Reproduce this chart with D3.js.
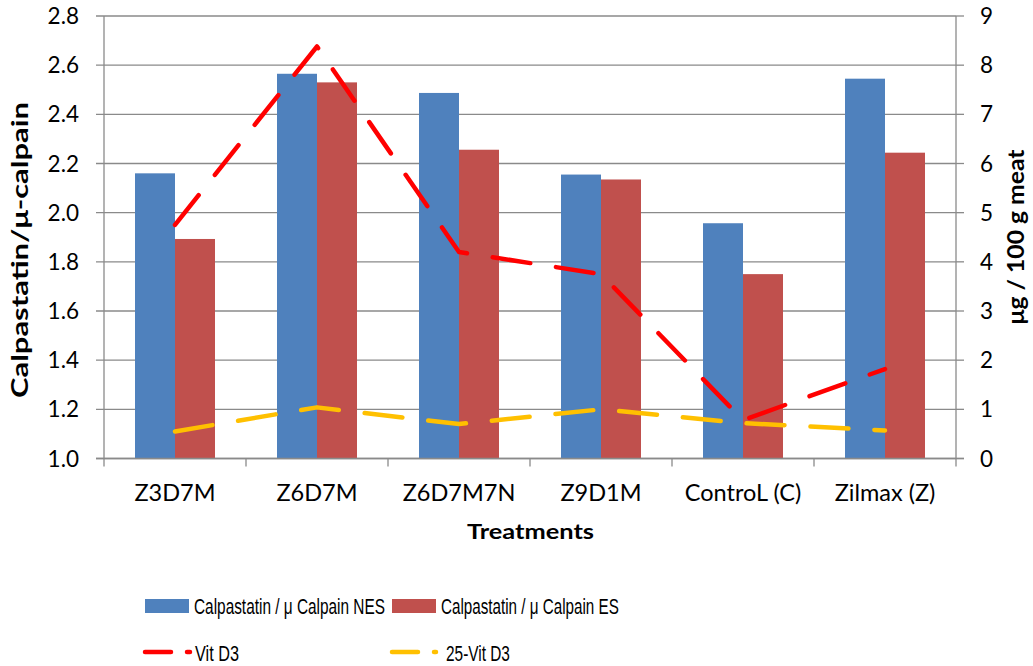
<!DOCTYPE html>
<html><head><meta charset="utf-8">
<script src="https://cdn.jsdelivr.net/npm/d3@7"></script>
<style>body{margin:0;background:#fff}svg{display:block}</style>
</head><body>
<svg id="c" width="1033" height="666"></svg>
<script>
const categories = ["Z3D7M","Z6D7M","Z6D7M7N","Z9D1M","ControL (C)","Zilmax (Z)"];
const nesValues = [2.16,2.565,2.487,2.155,1.957,2.545];
const esValues = [1.893,2.53,2.256,2.135,1.75,2.244];
const vitD3 = [4.75,8.38,4.2,3.75,0.78,1.82];
const vit25D3 = [0.55,1.04,0.7,1.0,0.72,0.57];
const leftTicks = [1.0,1.2,1.4,1.6,1.8,2.0,2.2,2.4,2.6,2.8];
const rightTicks = [0,1,2,3,4,5,6,7,8,9];
const seriesNames = ["Calpastatin / μ Calpain NES","Calpastatin / μ Calpain ES","Vit D3","25-Vit D3"];

const svg = d3.select("#c");
const L=104,R=956,T=16,B=458.5;
const font="Lato, 'Open Sans', sans-serif";
const grid="#8a8a8a";
const x = d3.scaleBand().domain(categories).range([L,R]).padding(0);
const xi = d3.scaleBand().domain(["NES","ES"]).range([0,x.bandwidth()]).paddingInner(0).paddingOuter(0.775);
const yL = d3.scaleLinear().domain([1.0,2.8]).range([B,T]);
const yR = d3.scaleLinear().domain([0,9]).range([B,T]);

svg.append("g").selectAll("line").data(leftTicks).join("line")
  .attr("x1",L-8).attr("x2",R).attr("y1",d=>yL(d)).attr("y2",d=>yL(d))
  .attr("stroke",grid).attr("stroke-width",1.3);
svg.append("g").selectAll("line").data(rightTicks).join("line")
  .attr("x1",R).attr("x2",R+8).attr("y1",d=>yR(d)).attr("y2",d=>yR(d))
  .attr("stroke",grid).attr("stroke-width",1.3);
const bars = svg.append("g");
bars.selectAll("rect.nes").data(categories).join("rect")
  .attr("x",(c)=>x(c)+xi("NES")).attr("width",xi.bandwidth())
  .attr("y",(c,i)=>yL(nesValues[i])).attr("height",(c,i)=>yL(1)-yL(nesValues[i]))
  .attr("fill","#4F81BD");
bars.selectAll("rect.es").data(categories).join("rect")
  .attr("x",(c)=>x(c)+xi("ES")).attr("width",xi.bandwidth())
  .attr("y",(c,i)=>yL(esValues[i])).attr("height",(c,i)=>yL(1)-yL(esValues[i]))
  .attr("fill","#C0504D");
svg.append("line").attr("x1",L).attr("x2",L).attr("y1",T).attr("y2",B+8).attr("stroke",grid).attr("stroke-width",1.3);
svg.append("line").attr("x1",R).attr("x2",R).attr("y1",T).attr("y2",B+8).attr("stroke",grid).attr("stroke-width",1.3);
svg.append("line").attr("x1",L-8).attr("x2",R+8).attr("y1",B).attr("y2",B).attr("stroke",grid).attr("stroke-width",1.3);
svg.append("g").selectAll("line").data(categories.slice(1)).join("line")
  .attr("x1",d=>x(d)).attr("x2",d=>x(d)).attr("y1",B).attr("y2",B+8).attr("stroke",grid).attr("stroke-width",1.3);

const cx = c=>x(c)+x.bandwidth()/2;
const lineR = d3.line().x((d,i)=>cx(categories[i])).y(d=>yR(d));
const dash="38,26";
svg.append("path").attr("d",lineR(vit25D3)).attr("fill","none").attr("stroke","#FFC000")
  .attr("stroke-width",4.5).attr("stroke-dasharray",dash).attr("stroke-linecap","round").attr("stroke-linejoin","round");
svg.append("path").attr("d",lineR(vitD3)).attr("fill","none").attr("stroke","#FF0000")
  .attr("stroke-width",4.5).attr("stroke-dasharray",dash).attr("stroke-linecap","round").attr("stroke-linejoin","round");

svg.append("g").selectAll("text").data(leftTicks).join("text")
  .attr("x",79).attr("y",d=>yL(d)+8).attr("text-anchor","end")
  .attr("font-family",font).attr("font-size",22.5).attr("fill","#000").text(d=>d.toFixed(1));
svg.append("g").selectAll("text").data(rightTicks).join("text")
  .attr("x",980).attr("y",d=>yR(d)+8).attr("text-anchor","start")
  .attr("font-family",font).attr("font-size",22.5).attr("fill","#000").text(d=>d);
svg.append("g").selectAll("text").data(categories).join("text")
  .attr("x",d=>cx(d)).attr("y",501).attr("text-anchor","middle")
  .attr("font-family",font).attr("font-size",23.5).attr("fill","#000").text(d=>d);

svg.append("text").attr("transform","translate(28,250) rotate(-90)").attr("text-anchor","middle")
  .attr("font-family",font).attr("font-weight","bold").attr("font-size",22)
  .attr("textLength",296).attr("lengthAdjust","spacingAndGlyphs").text("Calpastatin/μ-calpain");
svg.append("text").attr("transform","translate(1024,237) rotate(-90)").attr("text-anchor","middle")
  .attr("font-family",font).attr("font-weight","bold").attr("font-size",22)
  .attr("textLength",175).attr("lengthAdjust","spacingAndGlyphs").text("μg / 100 g meat");
svg.append("text").attr("x",530.5).attr("y",539).attr("text-anchor","middle")
  .attr("font-family",font).attr("font-weight","bold").attr("font-size",21)
  .attr("textLength",127).attr("lengthAdjust","spacingAndGlyphs").text("Treatments");

// legend (text horizontally condensed to the reference widths)
const lf="'Liberation Sans', Arial, sans-serif";
const lg = svg.append("g");
function fitText(xp, yp, w, s){
  const t = lg.append("text").attr("x",0).attr("y",0).attr("font-family",lf).attr("font-size",21.5).attr("fill","#000").text(s);
  const nat = t.node().getComputedTextLength();
  t.attr("transform",`translate(${xp},${yp}) scale(${w/nat},1)`);
}
lg.append("rect").attr("x",145).attr("y",599).attr("width",44).attr("height",14).attr("fill","#4F81BD");
fitText(194,614,191,seriesNames[0]);
lg.append("rect").attr("x",392).attr("y",599).attr("width",44).attr("height",14).attr("fill","#C0504D");
fitText(441,614,178,seriesNames[1]);
lg.append("line").attr("x1",145).attr("x2",190).attr("y1",652).attr("y2",652).attr("stroke","#FF0000")
  .attr("stroke-width",4.5).attr("stroke-linecap","round").attr("stroke-dasharray","26,16");
fitText(195,661,44,seriesNames[2]);
lg.append("line").attr("x1",392).attr("x2",436).attr("y1",652).attr("y2",652).attr("stroke","#FFC000")
  .attr("stroke-width",4.5).attr("stroke-linecap","round").attr("stroke-dasharray","26,16");
fitText(446,661,64,seriesNames[3]);
</script>
</body></html>
